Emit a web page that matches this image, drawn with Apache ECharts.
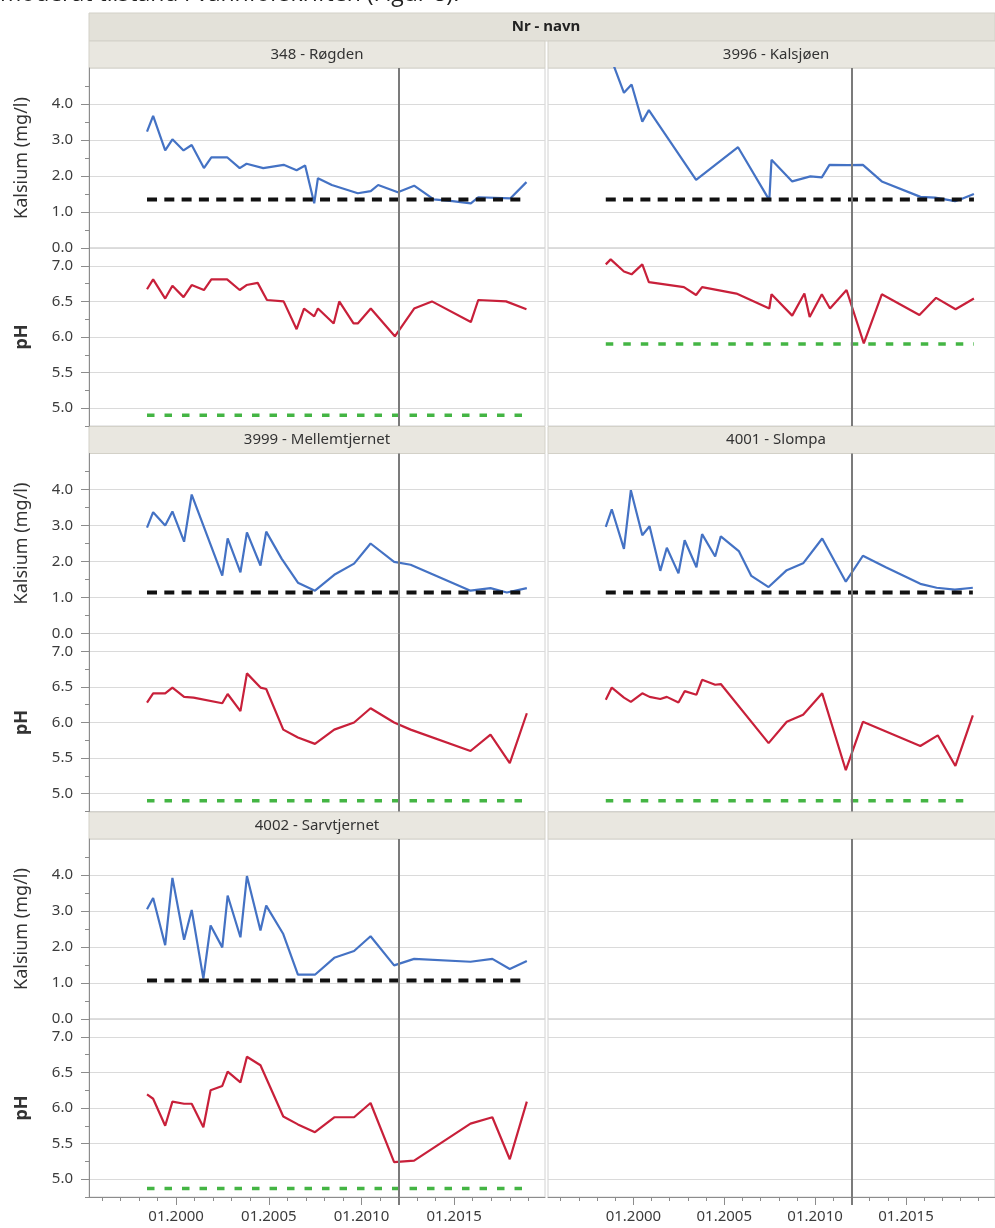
<!DOCTYPE html>
<html lang="no">
<head>
<meta charset="UTF-8">
<title>Kalsium og pH</title>
<script src="https://cdn.jsdelivr.net/npm/echarts@6.0.0/dist/echarts.min.js"></script>
<style>
  html, body { margin: 0; padding: 0; background: #fff; }
  #main { width: 995px; height: 1228px; }
</style>
</head>
<body>
<div id="main"></div>
<script>
// innsjøer (paneler)
var lakes = ['348 - Røgden', '3996 - Kalsjøen', '3999 - Mellemtjernet', '4001 - Slompa', '4002 - Sarvtjernet'];

// [år (desimal), verdi]
var rogdenCa = [[1998.43,3.23],[1998.76,3.67],[1999.41,2.71],[1999.8,3.02],[2000.4,2.71],[2000.84,2.86],[2001.5,2.22],[2001.9,2.52],[2002.75,2.52],[2003.43,2.22],[2003.8,2.34],[2004.7,2.22],[2005.8,2.31],[2006.5,2.16],[2006.96,2.29],[2007.45,1.24],[2007.65,1.94],[2008.4,1.75],[2009.8,1.52],[2010.5,1.58],[2010.9,1.75],[2011.96,1.55],[2012.84,1.73],[2013.9,1.35],[2014.9,1.30],[2015.9,1.24],[2016.3,1.41],[2018.04,1.38],[2018.9,1.83]];
var rogdenPh = [[1998.43,6.67],[1998.76,6.81],[1999.41,6.54],[1999.8,6.72],[2000.4,6.56],[2000.84,6.73],[2001.5,6.66],[2001.9,6.81],[2002.75,6.81],[2003.43,6.66],[2003.8,6.73],[2004.4,6.76],[2004.9,6.52],[2005.8,6.5],[2006.5,6.11],[2006.9,6.4],[2007.45,6.29],[2007.65,6.4],[2008.5,6.19],[2008.8,6.5],[2009.57,6.19],[2009.8,6.19],[2010.5,6.4],[2011.8,6.01],[2012.84,6.4],[2013.8,6.5],[2015.9,6.21],[2016.3,6.52],[2017.8,6.5],[2018.9,6.39]];

var kalsjoenCa = [[1998.48,5.5],[1998.78,5.25],[1999.48,4.31],[1999.9,4.54],[2000.49,3.51],[2000.85,3.83],[2003.45,1.89],[2005.76,2.8],[2007.48,1.33],[2007.6,2.45],[2008.74,1.85],[2009.74,1.99],[2010.37,1.96],[2010.79,2.31],[2011.8,2.3],[2012.63,2.31],[2013.67,1.85],[2015.8,1.42],[2016.6,1.4],[2017.7,1.3],[2018.05,1.36],[2018.74,1.5]];
var kalsjoenPh = [[1998.48,7.02],[1998.75,7.09],[1999.48,6.92],[1999.9,6.88],[2000.49,7.02],[2000.85,6.77],[2002.78,6.7],[2003.45,6.59],[2003.78,6.7],[2005.67,6.61],[2007.48,6.4],[2007.6,6.6],[2008.74,6.3],[2009.41,6.61],[2009.7,6.28],[2010.37,6.6],[2010.82,6.4],[2011.73,6.66],[2012.68,5.91],[2013.67,6.6],[2015.74,6.31],[2016.66,6.55],[2017.73,6.39],[2018.74,6.54]];

var mellemCa = [[1998.43,2.94],[1998.76,3.37],[1999.41,3.0],[1999.8,3.39],[2000.43,2.55],[2000.84,3.86],[2002.49,1.61],[2002.78,2.64],[2003.47,1.7],[2003.82,2.81],[2004.55,1.89],[2004.86,2.83],[2005.69,2.08],[2006.57,1.41],[2007.49,1.19],[2008.53,1.63],[2009.6,1.94],[2010.49,2.5],[2011.76,1.99],[2012.65,1.91],[2015.88,1.19],[2016.96,1.26],[2017.84,1.14],[2018.92,1.26]];
var mellemPh = [[1998.43,6.28],[1998.76,6.41],[1999.41,6.41],[1999.8,6.49],[2000.43,6.36],[2000.94,6.35],[2002.49,6.27],[2002.78,6.4],[2003.47,6.16],[2003.82,6.69],[2004.55,6.49],[2004.86,6.47],[2005.78,5.9],[2006.57,5.79],[2007.49,5.7],[2008.53,5.9],[2009.6,6.0],[2010.49,6.2],[2011.76,6.0],[2012.65,5.9],[2015.88,5.6],[2016.96,5.83],[2018.0,5.43],[2018.92,6.13]];

var slompaCa = [[1998.48,2.96],[1998.81,3.45],[1999.48,2.35],[1999.86,3.98],[2000.49,2.73],[2000.89,2.98],[2001.48,1.74],[2001.84,2.38],[2002.48,1.67],[2002.82,2.59],[2003.47,1.84],[2003.78,2.76],[2004.5,2.14],[2004.81,2.7],[2005.8,2.29],[2006.49,1.6],[2007.44,1.29],[2008.44,1.76],[2009.34,1.95],[2010.39,2.64],[2011.69,1.44],[2012.63,2.16],[2013.89,1.84],[2015.79,1.38],[2016.69,1.27],[2017.69,1.22],[2018.68,1.27]];
var slompaPh = [[1998.48,6.32],[1998.81,6.49],[1999.48,6.35],[1999.86,6.29],[2000.49,6.41],[2000.89,6.36],[2001.48,6.33],[2001.84,6.36],[2002.48,6.28],[2002.82,6.44],[2003.47,6.39],[2003.78,6.6],[2004.5,6.53],[2004.81,6.54],[2007.44,5.71],[2008.44,6.01],[2009.34,6.11],[2010.39,6.41],[2011.69,5.33],[2012.63,6.01],[2015.79,5.67],[2016.75,5.82],[2017.72,5.39],[2018.68,6.1]];

var sarvCa = [[1998.43,3.05],[1998.76,3.36],[1999.41,2.05],[1999.8,3.92],[2000.43,2.2],[2000.84,3.03],[2001.47,1.12],[2001.86,2.6],[2002.49,1.99],[2002.78,3.43],[2003.47,2.27],[2003.82,3.97],[2004.55,2.46],[2004.86,3.15],[2005.78,2.36],[2006.57,1.23],[2007.49,1.23],[2008.53,1.7],[2009.6,1.89],[2010.49,2.3],[2011.76,1.49],[2012.84,1.67],[2015.88,1.59],[2017.06,1.67],[2018.0,1.39],[2018.92,1.61]];
var sarvPh = [[1998.43,6.19],[1998.76,6.13],[1999.41,5.75],[1999.8,6.09],[2000.43,6.06],[2000.84,6.06],[2001.47,5.73],[2001.86,6.25],[2002.49,6.31],[2002.78,6.51],[2003.47,6.36],[2003.82,6.72],[2004.55,6.6],[2005.78,5.88],[2006.57,5.77],[2007.49,5.66],[2008.53,5.87],[2009.6,5.87],[2010.49,6.07],[2011.76,5.24],[2012.84,5.26],[2015.88,5.78],[2017.06,5.87],[2018.0,5.28],[2018.92,6.09]];

var caData = [rogdenCa, kalsjoenCa, mellemCa, slompaCa, sarvCa];
var phData = [rogdenPh, kalsjoenPh, mellemPh, slompaPh, sarvPh];

// grenseverdier (stiplet)
var caLimit = [1.35, 1.35, 1.14, 1.14, 1.07];
var phLimit = [4.9, 5.9, 4.9, 4.9, 4.87];

var yearTicks = [2000, 2005, 2010, 2015];
var caTicks = [0, 1, 2, 3, 4];
var caMinor = [0.5, 1.5, 2.5, 3.5, 4.5];
var phTicks = [5.0, 5.5, 6.0, 6.5, 7.0];
var phMinor = [4.75, 5.25, 5.75, 6.25, 6.75];
var cutoffYear = 2012;

// layout
var X_MIN = 1995.3, X_MAX = 2019.9;
var COL_LEFT = [89, 548], PANEL_W = 456;
var ROW_TOP = [68, 453.5, 839], CA_H = 180, PH_H = 178, BAND_H = 27;
var FONT = 'Noto Sans';
var AXIS_GRAY = '#8c8c8c';

var minorYears = [];
for (var yr = 1996; yr <= 2019; yr++) if (yr % 5) minorYears.push(yr);

function cutoffLine() {
  return {
    silent: true, symbol: ['none', 'none'], label: { show: false },
    lineStyle: { color: '#7b7b7b', width: 2, type: 'solid' },
    data: [{ xAxis: cutoffYear }]
  };
}
function limitData(arr, v) {
  return [[arr[0][0], v], [arr[arr.length - 1][0], v]];
}
function yearLabel(v) { return '01.' + Math.round(v); }
function oneDec(v) { return Number(v).toFixed(1); }

function buildOption() {
  var grids = [], xAxes = [], yAxes = [], series = [], graphics = [];

  // grids + main axes (axis index = grid index)
  for (var p = 0; p < 6; p++) {
    var col = p % 2, row = Math.floor(p / 2);
    var gLeft = COL_LEFT[col], gTop = ROW_TOP[row];
    var isLeft = col === 0, isBottom = row === 2;

    grids.push({ left: gLeft, top: gTop, width: PANEL_W, height: CA_H, show: true, borderColor: '#d2d2d2', borderWidth: 1 });
    grids.push({ left: gLeft, top: gTop + CA_H, width: PANEL_W, height: PH_H, show: true, borderColor: '#d2d2d2', borderWidth: 1 });

    for (var k = 0; k < 2; k++) {
      xAxes.push({
        type: 'value', gridIndex: 2 * p + k, position: 'bottom', min: X_MIN, max: X_MAX,
        show: isBottom && k === 1,
        axisLine: { show: true, lineStyle: { color: AXIS_GRAY } },
        axisTick: { show: true, length: 8, customValues: yearTicks.slice(), lineStyle: { color: AXIS_GRAY } },
        axisLabel: { customValues: yearTicks.slice(), formatter: yearLabel, fontFamily: FONT, fontSize: 15, color: '#3c3c3c', margin: 12 },
        splitLine: { show: false }
      });
    }

    yAxes.push({
      type: 'value', gridIndex: 2 * p, position: 'left', min: 0, max: 5, interval: 1,
      name: isLeft ? 'Kalsium (mg/l)' : '', nameLocation: 'middle', nameRotate: 90, nameGap: 58,
      nameTextStyle: { fontFamily: FONT, fontSize: 18, color: '#333' },
      axisLine: { show: isLeft, lineStyle: { color: AXIS_GRAY } },
      axisTick: { show: isLeft, length: 8, customValues: caTicks.slice(), lineStyle: { color: AXIS_GRAY } },
      axisLabel: { show: isLeft, customValues: caTicks.slice(), formatter: oneDec, fontFamily: FONT, fontSize: 15, color: '#3c3c3c', margin: 16 },
      splitLine: { show: true, lineStyle: { color: '#dadada', width: 1 } }
    });
    yAxes.push({
      type: 'value', gridIndex: 2 * p + 1, position: 'left', min: 4.75, max: 7.25,
      name: isLeft ? 'pH' : '', nameLocation: 'middle', nameRotate: 90, nameGap: 58,
      nameTextStyle: { fontFamily: FONT, fontSize: 18, fontWeight: 'bold', color: '#333' },
      axisLine: { show: isLeft, lineStyle: { color: AXIS_GRAY } },
      axisTick: { show: isLeft, length: 8, customValues: phTicks.slice(), lineStyle: { color: AXIS_GRAY } },
      axisLabel: { show: isLeft, customValues: phTicks.slice(), formatter: oneDec, fontFamily: FONT, fontSize: 15, color: '#3c3c3c', margin: 16 },
      splitLine: { show: true, lineStyle: { color: '#dadada', width: 1 } }
    });
  }

  // minor ticks on left column
  [0, 4, 8].forEach(function (g) {
    [[g, 0, 5, caMinor], [g + 1, 4.75, 7.25, phMinor]].forEach(function (a) {
      yAxes.push({
        type: 'value', gridIndex: a[0], position: 'left', min: a[1], max: a[2],
        axisLine: { show: false }, axisLabel: { show: false }, splitLine: { show: false },
        axisTick: { show: true, length: 4, customValues: a[3].slice(), lineStyle: { color: AXIS_GRAY } }
      });
    });
  });
  // yearly minor ticks + cutoff tick on bottom axes
  [9, 11].forEach(function (g) {
    xAxes.push({
      type: 'value', gridIndex: g, position: 'bottom', min: X_MIN, max: X_MAX,
      axisLine: { show: false }, axisLabel: { show: false }, splitLine: { show: false },
      axisTick: { show: true, length: 4, customValues: minorYears.slice(), lineStyle: { color: AXIS_GRAY } }
    });
    xAxes.push({
      type: 'value', gridIndex: g, position: 'bottom', min: X_MIN, max: X_MAX,
      axisLine: { show: false }, axisLabel: { show: false }, splitLine: { show: false },
      axisTick: { show: true, length: 8, customValues: [cutoffYear], lineStyle: { color: '#7b7b7b', width: 2 } }
    });
  });

  // series
  for (var i = 0; i < lakes.length; i++) {
    var gCa = 2 * i, gPh = 2 * i + 1;
    series.push({
      type: 'line', name: 'Kalsium', xAxisIndex: gCa, yAxisIndex: gCa, data: caData[i],
      symbol: 'none', clip: true, z: 3,
      lineStyle: { color: '#4472c4', width: 2.2 }, markLine: cutoffLine()
    });
    series.push({
      type: 'line', xAxisIndex: gCa, yAxisIndex: gCa, data: limitData(caData[i], caLimit[i]),
      symbol: 'none', z: 4, lineStyle: { color: '#111', width: 4, type: [10, 7.3] }
    });
    series.push({
      type: 'line', name: 'pH', xAxisIndex: gPh, yAxisIndex: gPh, data: phData[i],
      symbol: 'none', clip: true, z: 3,
      lineStyle: { color: '#c8203a', width: 2.2 }, markLine: cutoffLine()
    });
    series.push({
      type: 'line', xAxisIndex: gPh, yAxisIndex: gPh, data: limitData(phData[i], phLimit[i]),
      symbol: 'none', z: 4, lineStyle: { color: '#44b544', width: 3.5, type: [7.5, 10] }
    });
  }
  // tomt panel: bare referanselinjen
  [10, 11].forEach(function (g) {
    series.push({ type: 'line', xAxisIndex: g, yAxisIndex: g, data: [], symbol: 'none', markLine: cutoffLine() });
  });

  // caption + header/title bands
  graphics.push({
    type: 'text', x: 0, y: -17,
    style: { text: 'moderat tilstand i vannforskriften (Figur 8).', font: '23px "Open Sans"', fill: '#222' }
  });
  graphics.push({
    type: 'rect', shape: { x: 89, y: 13, width: 995 - 89, height: 28 },
    style: { fill: '#e3e1d9', stroke: '#d3d1c8', lineWidth: 1 }
  });
  graphics.push({
    type: 'text', x: 546, y: 27,
    style: { text: 'Nr - navn', font: 'bold 15px "Noto Sans"', fill: '#222', align: 'center', verticalAlign: 'middle' }
  });
  for (var q = 0; q < 6; q++) {
    var bx = COL_LEFT[q % 2], by = ROW_TOP[Math.floor(q / 2)] - BAND_H;
    graphics.push({
      type: 'rect', shape: { x: bx, y: by, width: PANEL_W, height: BAND_H },
      style: { fill: '#e9e7e0', stroke: '#d3d1c8', lineWidth: 1 }
    });
    if (lakes[q]) {
      graphics.push({
        type: 'text', x: bx + PANEL_W / 2, y: by + BAND_H / 2,
        style: { text: lakes[q], font: '15px "Noto Sans"', fill: '#333', align: 'center', verticalAlign: 'middle' }
      });
    }
  }

  return {
    animation: false,
    backgroundColor: '#fff',
    grid: grids,
    xAxis: xAxes,
    yAxis: yAxes,
    series: series,
    graphic: graphics
  };
}

var chart = echarts.init(document.getElementById('main'));
chart.setOption(buildOption());
</script>
</body>
</html>
